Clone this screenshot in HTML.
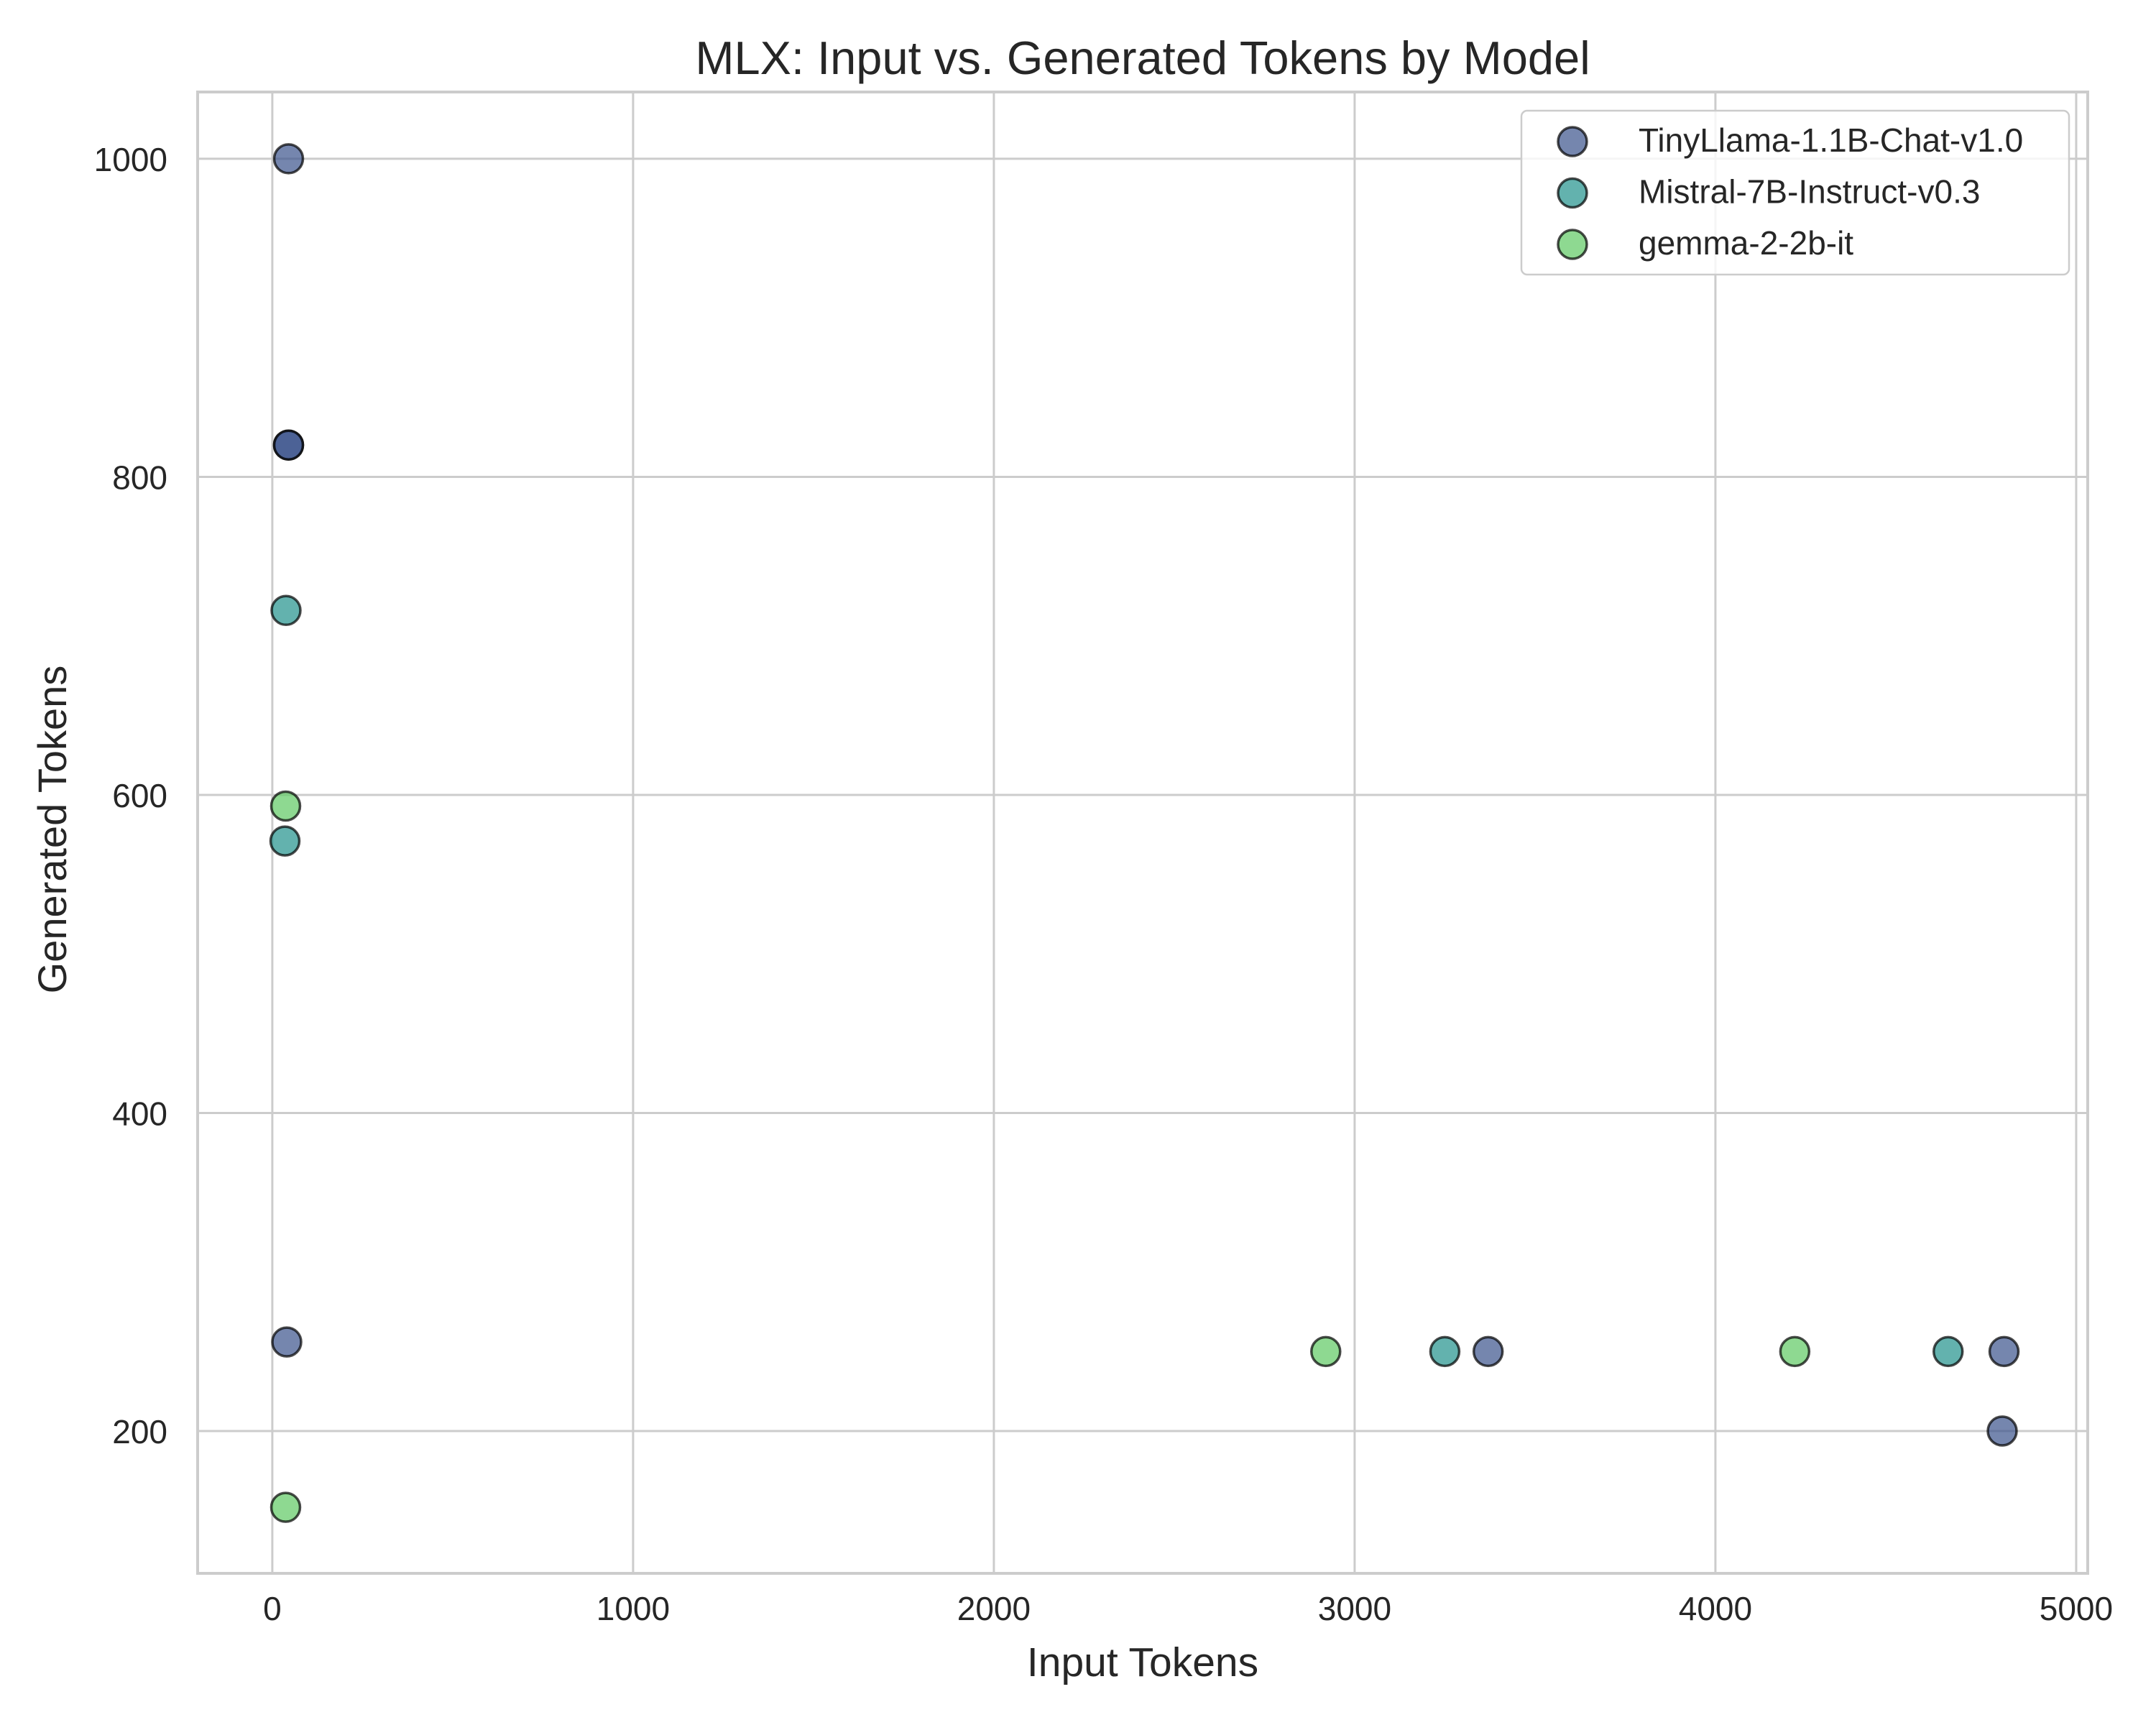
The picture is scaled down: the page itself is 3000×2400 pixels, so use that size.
<!DOCTYPE html>
<html><head><meta charset="utf-8"><style>
html,body{margin:0;padding:0;background:#fff}
svg{display:block;font-family:"Liberation Sans","DejaVu Sans",sans-serif}
</style></head><body>
<svg id="chart" width="3000" height="2400" viewBox="0 0 3000 2400">
<rect x="0" y="0" width="3000" height="2400" fill="#fff"/>
<g id="grid"></g><g id="points"></g><g id="axes"></g>
<text x="1590" y="103" text-anchor="middle" font-size="65" fill="#262626">MLX: Input vs. Generated Tokens by Model</text>
<text x="1590" y="2332" text-anchor="middle" font-size="57" fill="#262626">Input Tokens</text>
<text x="0" y="0" transform="translate(92,1154) rotate(-90)" text-anchor="middle" font-size="56" fill="#262626">Generated Tokens</text>
<g id="legend"></g>
</svg>
<script>
const seriesNames = ["TinyLlama-1.1B-Chat-v1.0","Mistral-7B-Instruct-v0.3","gemma-2-2b-it"];
const seriesColors = ["#3b528b","#21918c","#5ec962"];
const tinyX = [45, 45, 45, 40, 3370, 4800, 4795];
const tinyY = [1000, 820, 820, 256, 250, 250, 200];
const mistralX = [38, 35, 3250, 4645];
const mistralY = [716, 571, 250, 250];
const gemmaX = [37, 37, 2920, 4220];
const gemmaY = [593, 152, 250, 250];
const xTicks = [0,1000,2000,3000,4000,5000];
const yTicks = [200,400,600,800,1000];

const L=275,R=2905,T=128,B=2189;
const xMin=-207,xMax=5032,yMin=110.5,yMax=1042;
const sx=v=>L+(v-xMin)/(xMax-xMin)*(R-L);
const sy=v=>B-(v-yMin)/(yMax-yMin)*(B-T);
const NS="http://www.w3.org/2000/svg";
function mk(tag,attrs,parent){const e=document.createElementNS(NS,tag);for(const k in attrs)e.setAttribute(k,attrs[k]);parent.appendChild(e);return e;}
const grid=document.getElementById('grid'),axes=document.getElementById('axes'),pts=document.getElementById('points'),leg=document.getElementById('legend');
xTicks.forEach(t=>{
  const l=mk('line',{x1:sx(t),x2:sx(t),y1:T,y2:B,stroke:'#cccccc','stroke-width':3},grid);
  
  
  const tx=mk('text',{x:sx(t),y:2254,'text-anchor':'middle','font-size':46,fill:'#262626'},axes);
  tx.textContent=t;
  
  
});
yTicks.forEach(t=>{
  const l=mk('line',{x1:L,x2:R,y1:sy(t),y2:sy(t),stroke:'#cccccc','stroke-width':3},grid);
  
  
  const tx=mk('text',{x:233,y:sy(t)+17,'text-anchor':'end','font-size':46,fill:'#262626'},axes);
  tx.textContent=t;
  
  
});
const frame=mk('rect',{x:L,y:T,width:R-L,height:B-T,fill:'none',stroke:'#cccccc','stroke-width':4},axes);


const series=[[tinyX,tinyY],[mistralX,mistralY],[gemmaX,gemmaY]];
series.forEach((s,i)=>{
  s[0].forEach((xv,j)=>{
    const c=mk('circle',{cx:sx(xv),cy:sy(s[1][j]),r:20,fill:seriesColors[i],'fill-opacity':0.7,stroke:'#000','stroke-opacity':0.7,'stroke-width':3.5},pts);
    
    
  });
});
const lb=mk('rect',{x:2117,y:154,width:762,height:228,rx:8,fill:'#fff','fill-opacity':0.8,stroke:'#cccccc','stroke-width':2.5},leg);


seriesNames.forEach((n,i)=>{
  const y=197+i*71.5;
  const c=mk('circle',{cx:2188,cy:y,r:20,fill:seriesColors[i],'fill-opacity':0.7,stroke:'#000','stroke-opacity':0.7,'stroke-width':3.5},leg);
  
  
  const t=mk('text',{x:2280,y:y+14,'font-size':46,fill:'#262626'},leg);
  t.textContent=n;
  
  
});
</script>
</body></html>
